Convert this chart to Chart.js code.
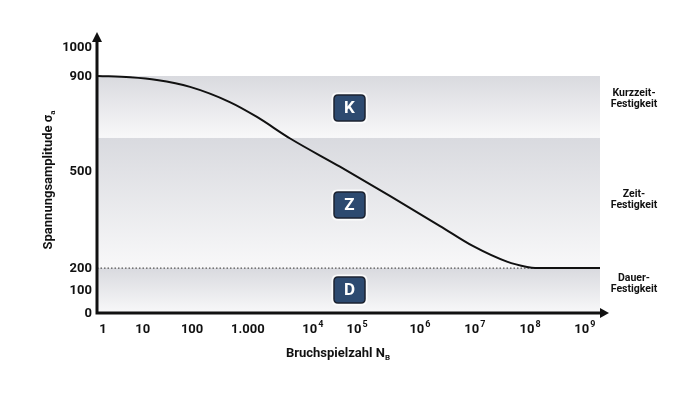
<!DOCTYPE html>
<html>
<head>
<meta charset="utf-8">
<script src="https://cdn.jsdelivr.net/npm/chart.js@4.4.1/dist/chart.umd.min.js"></script>
<style>
  html, body { margin: 0; padding: 0; background: #fff; }
  #wrap { width: 700px; height: 394px; position: relative; }
</style>
</head>
<body>
<div id="wrap"><canvas id="woehler" width="700" height="394"></canvas></div>
<script>
// Achsen sind schematisch (nicht log/linear), daher Positionswerte 0..100 bzw. 0..1000
const xTickPos = [1.2, 9.1, 18.9, 30.0, 42.9, 51.7, 64.2, 75.1, 86.1, 97.0];
const xTickBase = ['1', '10', '100', '1.000', '10', '10', '10', '10', '10', '10'];
const xTickExp = ['', '', '', '', '4', '5', '6', '7', '8', '9'];

const yTickPos = [0, 86, 169, 534, 891, 1000];
const yTickLabels = ['0', '100', '200', '500', '900', '1000'];

// Woehlerlinie (Position x, Spannung y)
const curveX = [0.2, 6.6, 11.9, 18.5, 26.4, 31.8, 38.4, 48.3, 58.3, 68.2, 74.8, 81.5, 85.5, 87.1, 100];
const curveY = [891, 886, 876, 850, 793, 737, 656, 550, 439, 327, 251, 193, 173, 169, 169];

// Dauerfestigkeit gestrichelt
const dauerX = [0, 87.1];
const dauerY = [169, 169];

// Bereiche (K, Z, D)
const zoneTop = [891, 658, 169];
const zoneBottom = [658, 169, 0];
const zoneLetters = ['K', 'Z', 'D'];
const zoneLetterY = [771, 406, 86];
const zoneLetterX = 50.2;
const zoneNames = [['Kurzzeit-', 'Festigkeit'], ['Zeit-', 'Festigkeit'], ['Dauer-', 'Festigkeit']];
const zoneNameY = [807, 426, 110];

const FONT = 'Roboto, "Liberation Sans", sans-serif';

function roundRect(c, x, y, w, h, r) {
  c.beginPath();
  c.moveTo(x + r, y);
  c.lineTo(x + w - r, y);
  c.quadraticCurveTo(x + w, y, x + w, y + r);
  c.lineTo(x + w, y + h - r);
  c.quadraticCurveTo(x + w, y + h, x + w - r, y + h);
  c.lineTo(x + r, y + h);
  c.quadraticCurveTo(x, y + h, x, y + h - r);
  c.lineTo(x, y + r);
  c.quadraticCurveTo(x, y, x + r, y);
  c.closePath();
}

// Hintergrundbaender
const bandsPlugin = {
  id: 'bands',
  beforeDatasetsDraw(chart) {
    const c = chart.ctx, xs = chart.scales.x, ys = chart.scales.y;
    const left = xs.getPixelForValue(0), right = xs.getPixelForValue(100);
    c.save();
    zoneTop.forEach((t, i) => {
      const y1 = ys.getPixelForValue(t), y2 = ys.getPixelForValue(zoneBottom[i]);
      const g = c.createLinearGradient(0, y1, 0, y2);
      g.addColorStop(0, '#d9dadf');
      g.addColorStop(1, '#f8f8f9');
      c.fillStyle = g;
      c.fillRect(left, y1, right - left, y2 - y1);
    });
    c.restore();
  }
};

// Achsen, Beschriftungen, Badges
const decorPlugin = {
  id: 'decor',
  afterDatasetsDraw(chart) {
    const c = chart.ctx, xs = chart.scales.x, ys = chart.scales.y;
    const x0 = xs.getPixelForValue(0), y0 = ys.getPixelForValue(0);
    const yTop = ys.getPixelForValue(1000);
    c.save();

    // Achsen mit Pfeilen
    c.strokeStyle = '#111';
    c.fillStyle = '#111';
    c.lineWidth = 3;
    c.beginPath();
    c.moveTo(x0, y0 + 1.5);
    c.lineTo(x0, yTop - 8);
    c.moveTo(x0 - 1.5, y0);
    c.lineTo(xs.getPixelForValue(100) + 2, y0);
    c.stroke();
    c.beginPath();
    c.moveTo(x0, yTop - 15);
    c.lineTo(x0 - 5, yTop - 5);
    c.lineTo(x0 + 5, yTop - 5);
    c.closePath();
    c.fill();
    const xe = xs.getPixelForValue(100);
    c.beginPath();
    c.moveTo(xe + 9, y0);
    c.lineTo(xe, y0 - 5);
    c.lineTo(xe, y0 + 5);
    c.closePath();
    c.fill();

    // y Ticks
    c.font = 'bold 13px ' + FONT;
    c.textAlign = 'right';
    c.textBaseline = 'middle';
    yTickPos.forEach((v, i) => {
      c.fillText(yTickLabels[i], x0 - 5, ys.getPixelForValue(v) + 1);
    });

    // x Ticks mit Hochzahl
    c.textAlign = 'left';
    xTickPos.forEach((v, i) => {
      c.font = 'bold 13px ' + FONT;
      const wb = c.measureText(xTickBase[i]).width;
      c.font = 'bold 9px ' + FONT;
      const we = xTickExp[i] ? c.measureText(xTickExp[i]).width + 1 : 0;
      const px = xs.getPixelForValue(v) - (wb + we) / 2;
      c.font = 'bold 13px ' + FONT;
      c.fillText(xTickBase[i], px, y0 + 17);
      if (xTickExp[i]) {
        c.font = 'bold 9px ' + FONT;
        c.fillText(xTickExp[i], px + wb + 1, y0 + 12);
      }
    });

    // x Titel
    c.font = 'bold 13px ' + FONT;
    const t1 = 'Bruchspielzahl N';
    const w1 = c.measureText(t1).width;
    c.font = 'bold 8px ' + FONT;
    const w2 = c.measureText('B').width;
    let tx = 338 - (w1 + w2) / 2;
    c.font = 'bold 13px ' + FONT;
    c.fillText(t1, tx, 354);
    c.font = 'bold 8px ' + FONT;
    c.fillText('B', tx + w1, 358);

    // y Titel (gedreht)
    c.save();
    c.translate(49, 180);
    c.rotate(-Math.PI / 2);
    c.font = 'bold 13px ' + FONT;
    const s1 = 'Spannungsamplitude \u03c3';
    const sw1 = c.measureText(s1).width;
    c.font = 'bold 8px ' + FONT;
    const sw2 = c.measureText('a').width;
    const sx = -(sw1 + sw2) / 2;
    c.font = 'bold 13px ' + FONT;
    c.fillText(s1, sx, 0);
    c.font = 'bold 8px ' + FONT;
    c.fillText('a', sx + sw1, 4);
    c.restore();

    // Badges K / Z / D
    zoneLetters.forEach((l, i) => {
      const cx = xs.getPixelForValue(zoneLetterX), cy = ys.getPixelForValue(zoneLetterY[i]);
      c.fillStyle = 'rgba(255,255,255,0.8)';
      roundRect(c, cx - 18, cy - 15.5, 36, 31, 6);
      c.fill();
      c.fillStyle = '#2d4a70';
      c.strokeStyle = '#1b2230';
      c.lineWidth = 1.5;
      roundRect(c, cx - 15.5, cy - 13, 31, 26, 4);
      c.fill();
      c.stroke();
      c.fillStyle = '#fff';
      c.font = 'bold 17px ' + FONT;
      c.textAlign = 'center';
      c.textBaseline = 'middle';
      c.fillText(l, cx, cy + 1);
    });

    // Bereichsnamen rechts
    c.fillStyle = '#111';
    c.font = 'bold 10.5px ' + FONT;
    c.textAlign = 'center';
    zoneNames.forEach((lines, i) => {
      const cy = ys.getPixelForValue(zoneNameY[i]);
      c.fillText(lines[0], 634, cy - 5);
      c.fillText(lines[1], 634, cy + 6);
    });

    c.restore();
  }
};

const ctx = document.getElementById('woehler').getContext('2d');
const chart = new Chart(ctx, {
  type: 'line',
  data: {
    datasets: [{
      label: 'Woehlerlinie',
      data: curveX.map((x, i) => ({ x: x, y: curveY[i] })),
      borderColor: '#111',
      borderWidth: 2,
      pointRadius: 0,
      cubicInterpolationMode: 'monotone',
      fill: false
    }, {
      label: 'Dauerfestigkeit',
      data: dauerX.map((x, i) => ({ x: x, y: dauerY[i] })),
      borderColor: '#555',
      borderWidth: 1.2,
      borderDash: [1.5, 2],
      pointRadius: 0,
      fill: false
    }]
  },
  options: {
    responsive: false,
    animation: false,
    layout: { padding: { left: 97, right: 100, top: 47, bottom: 81 } },
    plugins: {
      legend: { display: false },
      tooltip: { enabled: false }
    },
    scales: {
      x: { type: 'linear', min: 0, max: 100, display: false },
      y: { type: 'linear', min: 0, max: 1000, display: false }
    }
  },
  plugins: [bandsPlugin, decorPlugin]
});
</script>
</body>
</html>
